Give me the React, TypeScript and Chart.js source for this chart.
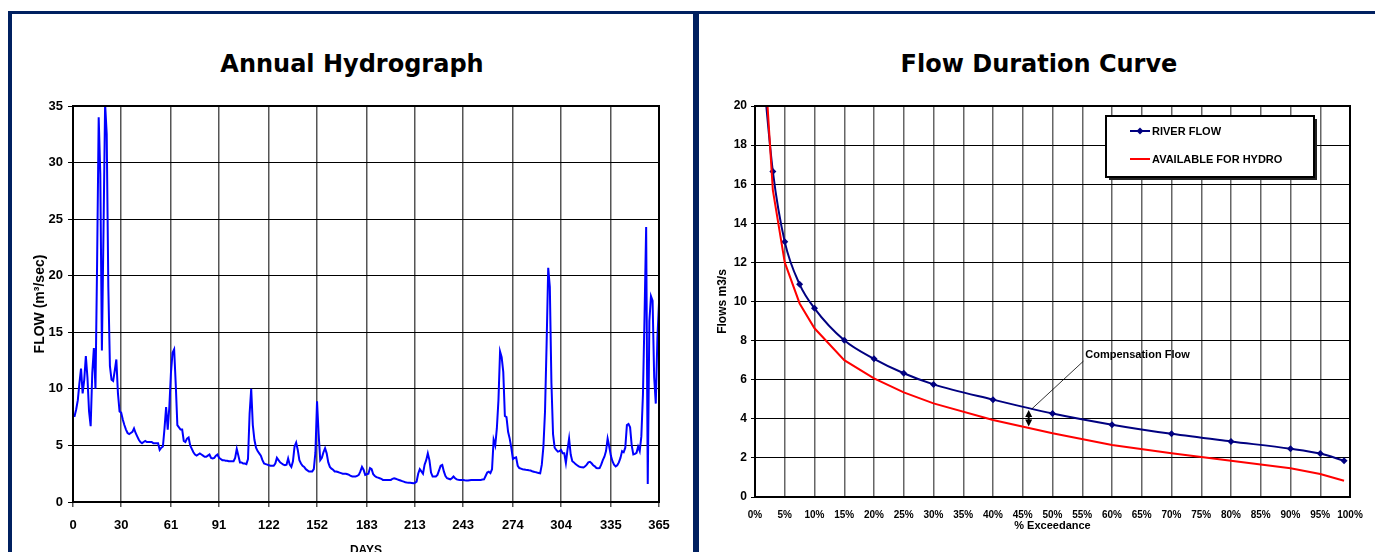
import React, { useEffect, useRef } from 'react';
import { Chart, registerables } from 'chart.js';

Chart.register(...registerables);

const FONT = "'Liberation Sans', Arial, sans-serif";
const TITLE_FONT = "'DejaVu Sans', Verdana, sans-serif";
const NAVY_FRAME = '#002060';

// ---------- Annual Hydrograph ----------
const hydroTitle = 'Annual Hydrograph';
const hydroXTitle = 'DAYS';
const hydroYTitle = 'FLOW (m³/sec)';
const hydroDayTicks = [0, 30, 61, 91, 122, 152, 183, 213, 243, 274, 304, 335, 365];
const hydroYMax = 35;
const hydroYStep = 5;
// daily flow, day 0 .. 365
const hydroFlow = [
  7.6, 7.6, 8.2, 9.0, 10.5, 11.8, 9.6, 10.8, 12.9, 11.0,
  8.0, 6.7, 11.4, 13.6, 10.0, 21.0, 34.0, 29.0, 13.4, 24.0,
  35.2, 32.5, 19.0, 12.0, 10.8, 10.7, 11.6, 12.6, 9.6, 8.0,
  7.9, 7.3, 6.8, 6.4, 6.1, 6.0, 6.1, 6.2, 6.5, 6.1,
  5.8, 5.5, 5.3, 5.2, 5.3, 5.4, 5.3, 5.3, 5.3, 5.3,
  5.2, 5.2, 5.2, 5.2, 4.6, 4.8, 4.9, 6.5, 8.4, 6.4,
  8.4, 11.4, 13.2, 13.5, 10.4, 6.8, 6.6, 6.4, 6.4, 5.4,
  5.3, 5.6, 5.7, 5.0, 4.7, 4.4, 4.2, 4.1, 4.2, 4.3,
  4.2, 4.1, 4.0, 4.0, 4.1, 4.2, 3.9, 3.85, 3.9, 4.1,
  4.2, 3.9, 3.8, 3.7, 3.7, 3.65, 3.65, 3.6, 3.6, 3.6,
  3.6, 3.9, 4.7, 4.1, 3.5, 3.5, 3.4, 3.4, 3.35, 3.8,
  7.8, 10.0, 6.8, 5.5, 4.8, 4.5, 4.3, 4.1, 3.7, 3.4,
  3.35, 3.3, 3.25, 3.2, 3.2, 3.2, 3.4, 3.9, 3.7, 3.5,
  3.4, 3.3, 3.25, 3.3, 3.85, 3.3, 3.1, 3.6, 4.9, 5.25,
  4.6, 3.7, 3.4, 3.2, 3.1, 2.9, 2.8, 2.7, 2.7, 2.7,
  2.9, 4.4, 8.9, 6.0, 3.7, 3.9, 4.4, 4.75, 4.3, 3.5,
  3.1, 2.95, 2.85, 2.7, 2.7, 2.65, 2.6, 2.55, 2.5, 2.5,
  2.5, 2.45, 2.4, 2.3, 2.25, 2.25, 2.25, 2.3, 2.4, 2.7,
  3.1, 2.85, 2.4, 2.45, 2.5, 3.0, 2.9, 2.45, 2.3, 2.2,
  2.15, 2.1, 2.05, 1.95, 1.95, 1.95, 1.95, 1.95, 1.95, 2.05,
  2.1, 2.05, 2.0, 1.95, 1.9, 1.85, 1.8, 1.75, 1.72, 1.7,
  1.7, 1.68, 1.65, 1.7, 1.8, 2.5, 2.9, 2.7, 2.5, 3.3,
  3.7, 4.3, 3.7, 2.6, 2.25, 2.25, 2.25, 2.4, 2.8, 3.2,
  3.27, 2.7, 2.3, 2.1, 2.05, 2.0, 2.1, 2.25, 2.1, 2.0,
  1.97, 1.95, 1.95, 1.95, 1.92, 1.9, 1.9, 1.93, 1.95, 1.95,
  1.95, 1.95, 1.95, 1.95, 1.95, 1.98, 2.0, 2.3, 2.6, 2.68,
  2.55, 2.9, 5.5, 5.0, 6.5, 9.0, 13.3, 12.8, 11.5, 7.6,
  7.5, 6.2, 5.6, 4.8, 3.8, 3.9, 3.95, 3.2, 3.0, 2.95,
  2.9, 2.88, 2.85, 2.83, 2.8, 2.78, 2.72, 2.68, 2.64, 2.6,
  2.57, 2.54, 3.3, 4.9, 8.0, 14.0, 20.7, 19.0, 10.5, 6.0,
  4.8, 4.6, 4.45, 4.5, 4.6, 4.3, 4.3, 3.45, 4.6, 5.6,
  4.2, 3.6, 3.5, 3.35, 3.25, 3.15, 3.1, 3.08, 3.05, 3.15,
  3.3, 3.5, 3.55, 3.42, 3.25, 3.15, 3.0, 2.98, 3.0, 3.3,
  3.7, 4.0, 4.5, 5.6, 4.9, 4.1, 3.6, 3.3, 3.15, 3.25,
  3.5, 3.9, 4.5, 4.4, 4.8, 6.8, 6.9, 6.6, 5.0, 4.2,
  4.25, 4.35, 4.9, 4.5, 5.8, 9.5, 16.5, 24.3, 1.6, 16.0,
  18.2, 17.8, 11.0, 8.7, 14.5, 17.6,
];

// ---------- Flow Duration Curve ----------
const fdcTitle = 'Flow Duration Curve';
const fdcXTitle = '% Exceedance';
const fdcYTitle = 'Flows m3/s';
const fdcYMax = 20;
const fdcYStep = 2;
const fdcXStep = 5;
const riverLabel = 'RIVER FLOW';
const riverExceedance = [1.5, 3, 5, 7.5, 10, 15, 20, 25, 30, 40, 50, 60, 70, 80, 90, 95, 99];
const riverFlow = [21.3, 16.65, 13.05, 10.88, 9.65, 8.02, 7.07, 6.33, 5.76, 4.98, 4.27, 3.7, 3.23, 2.84, 2.47, 2.22, 1.86];
const hydroLabel = 'AVAILABLE FOR HYDRO';
const hydroExceedance = [1.9, 3, 5, 7.5, 10, 15, 20, 25, 30, 40, 50, 60, 70, 80, 90, 95, 99];
const hydroAvailable = [21.0, 15.7, 12.0, 9.9, 8.63, 7.0, 6.07, 5.35, 4.79, 3.94, 3.26, 2.66, 2.24, 1.86, 1.47, 1.18, 0.83];
const compensationText = 'Compensation Flow';
const compensationArrow = { x: 46, yTop: 4.45, yBottom: 3.6 };
const compensationLeader = { x1: 46.5, y1: 4.5, x2: 55.2, y2: 6.95 };
const compensationLabelAt = { x: 55.5, y: 7.26 };

const RIVER_COLOR = '#000080';
const HYDRO_COLOR = '#ff0000';

const plotBorder = {
  id: 'plotBorder',
  afterDatasetsDraw(chart: any) {
    const { ctx, chartArea } = chart;
    ctx.save();
    ctx.strokeStyle = '#000';
    ctx.lineWidth = 2;
    ctx.strokeRect(chartArea.left, chartArea.top, chartArea.right - chartArea.left, chartArea.bottom - chartArea.top);
    ctx.restore();
  },
};

const fdcDecor = {
  id: 'fdcDecor',
  afterDraw(chart: any) {
    const { ctx, chartArea, scales } = chart;
    const xs = scales.x;
    const ys = scales.y;
    ctx.save();
    // legend box
    const bx = chartArea.left + 351;
    const by = chartArea.top + 10;
    const bw = 208;
    const bh = 61;
    ctx.fillStyle = '#222';
    ctx.fillRect(bx + 3, by + 3, bw, bh);
    ctx.fillStyle = '#fff';
    ctx.fillRect(bx, by, bw, bh);
    ctx.strokeStyle = '#000';
    ctx.lineWidth = 2;
    ctx.strokeRect(bx, by, bw, bh);
    const ds = chart.data.datasets;
    const rows = [by + 15, by + 43];
    ctx.font = `bold 11px ${FONT}`;
    ctx.textBaseline = 'middle';
    ctx.textAlign = 'left';
    ds.forEach((d: any, i: number) => {
      const yy = rows[i];
      ctx.strokeStyle = d.borderColor;
      ctx.lineWidth = 2;
      ctx.beginPath();
      ctx.moveTo(bx + 24, yy);
      ctx.lineTo(bx + 44, yy);
      ctx.stroke();
      if (d.pointRadius > 0) {
        const cx = bx + 34;
        const r = 3.5;
        ctx.fillStyle = d.borderColor;
        ctx.beginPath();
        ctx.moveTo(cx, yy - r);
        ctx.lineTo(cx + r, yy);
        ctx.lineTo(cx, yy + r);
        ctx.lineTo(cx - r, yy);
        ctx.closePath();
        ctx.fill();
      }
      ctx.fillStyle = '#000';
      ctx.fillText(d.label, bx + 46, yy + 0.5);
    });
    // compensation flow annotation
    const ax = xs.getPixelForValue(compensationArrow.x);
    const ay1 = ys.getPixelForValue(compensationArrow.yTop);
    const ay2 = ys.getPixelForValue(compensationArrow.yBottom);
    ctx.strokeStyle = '#000';
    ctx.fillStyle = '#000';
    ctx.lineWidth = 2;
    ctx.beginPath();
    ctx.moveTo(ax, ay1 + 4);
    ctx.lineTo(ax, ay2 - 4);
    ctx.stroke();
    ctx.beginPath();
    ctx.moveTo(ax, ay1);
    ctx.lineTo(ax - 3.5, ay1 + 7);
    ctx.lineTo(ax + 3.5, ay1 + 7);
    ctx.closePath();
    ctx.fill();
    ctx.beginPath();
    ctx.moveTo(ax, ay2);
    ctx.lineTo(ax - 3.5, ay2 - 7);
    ctx.lineTo(ax + 3.5, ay2 - 7);
    ctx.closePath();
    ctx.fill();
    ctx.lineWidth = 0.8;
    ctx.beginPath();
    ctx.moveTo(xs.getPixelForValue(compensationLeader.x1), ys.getPixelForValue(compensationLeader.y1));
    ctx.lineTo(xs.getPixelForValue(compensationLeader.x2), ys.getPixelForValue(compensationLeader.y2));
    ctx.stroke();
    ctx.font = `bold 11px ${FONT}`;
    ctx.textBaseline = 'middle';
    ctx.fillText(compensationText, xs.getPixelForValue(compensationLabelAt.x), ys.getPixelForValue(compensationLabelAt.y));
    ctx.restore();
  },
};

function hydroConfig(): any {
  return {
    type: 'line',
    data: {
      datasets: [
        {
          label: 'FLOW',
          data: hydroFlow.map((v, i) => ({ x: i, y: v })),
          borderColor: '#0000ff',
          borderWidth: 2,
          pointRadius: 0,
          tension: 0,
          fill: false,
        },
      ],
    },
    options: {
      animation: false,
      responsive: false,
      devicePixelRatio: 1,
      layout: { padding: { left: 0, top: 92, right: 34, bottom: 0 } },
      plugins: { legend: { display: false }, tooltip: { enabled: false } },
      scales: {
        x: {
          type: 'linear',
          min: 0,
          max: 365,
          afterBuildTicks: (s: any) => {
            s.ticks = hydroDayTicks.map((v) => ({ value: v }));
          },
          afterFit: (s: any) => {
            s.height = 60;
          },
          ticks: {
            autoSkip: false,
            maxRotation: 0,
            padding: 11,
            color: '#000',
            font: { family: FONT, size: 13, weight: 'bold' },
            callback: (v: any) => String(v),
          },
          grid: { color: '#555', lineWidth: 1.5, tickLength: 5, drawTicks: true },
          border: { display: false },
          title: {
            display: true,
            text: hydroXTitle,
            color: '#000',
            font: { family: FONT, size: 12, weight: 'bold' },
            padding: { top: 0, bottom: 4 },
          },
        },
        y: {
          min: 0,
          max: hydroYMax,
          afterFit: (s: any) => {
            s.width = 61;
          },
          ticks: {
            stepSize: hydroYStep,
            padding: 5,
            color: '#000',
            font: { family: FONT, size: 13, weight: 'bold' },
          },
          grid: { color: '#000', lineWidth: 1, tickLength: 5 },
          border: { display: false },
          title: {
            display: true,
            text: hydroYTitle,
            color: '#000',
            font: { family: FONT, size: 14, weight: 'bold' },
            padding: { top: 20, bottom: 0 },
          },
        },
      },
    },
    plugins: [plotBorder],
  };
}

function fdcConfig(): any {
  return {
    type: 'line',
    data: {
      datasets: [
        {
          label: riverLabel,
          data: riverExceedance.map((x, i) => ({ x, y: riverFlow[i] })),
          borderColor: RIVER_COLOR,
          backgroundColor: RIVER_COLOR,
          borderWidth: 2,
          pointStyle: 'rectRot',
          pointRadius: 3.5,
          pointBackgroundColor: RIVER_COLOR,
          pointBorderColor: RIVER_COLOR,
          pointBorderWidth: 0,
          cubicInterpolationMode: 'monotone',
          fill: false,
          order: 1,
        },
        {
          label: hydroLabel,
          data: hydroExceedance.map((x, i) => ({ x, y: hydroAvailable[i] })),
          borderColor: HYDRO_COLOR,
          backgroundColor: HYDRO_COLOR,
          borderWidth: 2,
          pointRadius: 0,
          tension: 0,
          fill: false,
          order: 0,
        },
      ],
    },
    options: {
      animation: false,
      responsive: false,
      devicePixelRatio: 1,
      layout: { padding: { left: 0, top: 92, right: 25, bottom: 0 } },
      plugins: { legend: { display: false }, tooltip: { enabled: false } },
      scales: {
        x: {
          type: 'linear',
          min: 0,
          max: 100,
          afterFit: (s: any) => {
            s.height = 65;
          },
          ticks: {
            stepSize: fdcXStep,
            autoSkip: false,
            maxRotation: 0,
            padding: 12,
            color: '#000',
            font: { family: FONT, size: 10, weight: 'bold' },
            callback: (v: any) => `${v}%`,
          },
          grid: { color: '#666', lineWidth: 1.5, drawTicks: false },
          border: { display: false },
          title: {
            display: true,
            text: fdcXTitle,
            color: '#000',
            font: { family: FONT, size: 11, weight: 'bold' },
            padding: { top: 0, bottom: 29 },
          },
        },
        y: {
          min: 0,
          max: fdcYMax,
          afterFit: (s: any) => {
            s.width = 56;
          },
          ticks: {
            stepSize: fdcYStep,
            padding: 4,
            color: '#000',
            font: { family: FONT, size: 12, weight: 'bold' },
          },
          grid: { color: '#000', lineWidth: 1, tickLength: 4 },
          border: { display: false },
          title: {
            display: true,
            text: fdcYTitle,
            color: '#000',
            font: { family: FONT, size: 12, weight: 'bold' },
            padding: { top: 16, bottom: 0 },
          },
        },
      },
    },
    plugins: [plotBorder, fdcDecor],
  };
}

const titleStyle = (cx: number): React.CSSProperties => ({
  position: 'absolute',
  left: cx - 300,
  top: 52,
  width: 600,
  textAlign: 'center',
  fontFamily: TITLE_FONT,
  fontWeight: 'bold',
  fontSize: 24,
  lineHeight: '24px',
  color: '#000',
  whiteSpace: 'nowrap',
});

export default function App() {
  const leftRef = useRef<HTMLCanvasElement>(null);
  const rightRef = useRef<HTMLCanvasElement>(null);

  useEffect(() => {
    const c1 = new Chart(leftRef.current as HTMLCanvasElement, hydroConfig());
    const c2 = new Chart(rightRef.current as HTMLCanvasElement, fdcConfig());
    return () => {
      c1.destroy();
      c2.destroy();
    };
  }, []);

  return (
    <div style={{ position: 'absolute', left: 0, top: 0, width: 1375, height: 552, overflow: 'hidden', background: '#fff' }}>
      <div style={{ position: 'absolute', left: 8, top: 11, width: 1400, height: 600, background: NAVY_FRAME }} />
      <div style={{ position: 'absolute', left: 12, top: 14, width: 681, height: 600, background: '#fff' }} />
      <div style={{ position: 'absolute', left: 699, top: 14, width: 700, height: 600, background: '#fff' }} />
      <div style={titleStyle(352)}>{hydroTitle}</div>
      <div style={titleStyle(1039)}>{fdcTitle}</div>
      <canvas
        ref={leftRef}
        width={681}
        height={548}
        style={{ position: 'absolute', left: 12, top: 14, width: 681, height: 548 }}
      />
      <canvas
        ref={rightRef}
        width={676}
        height={548}
        style={{ position: 'absolute', left: 699, top: 14, width: 676, height: 548 }}
      />
    </div>
  );
}
